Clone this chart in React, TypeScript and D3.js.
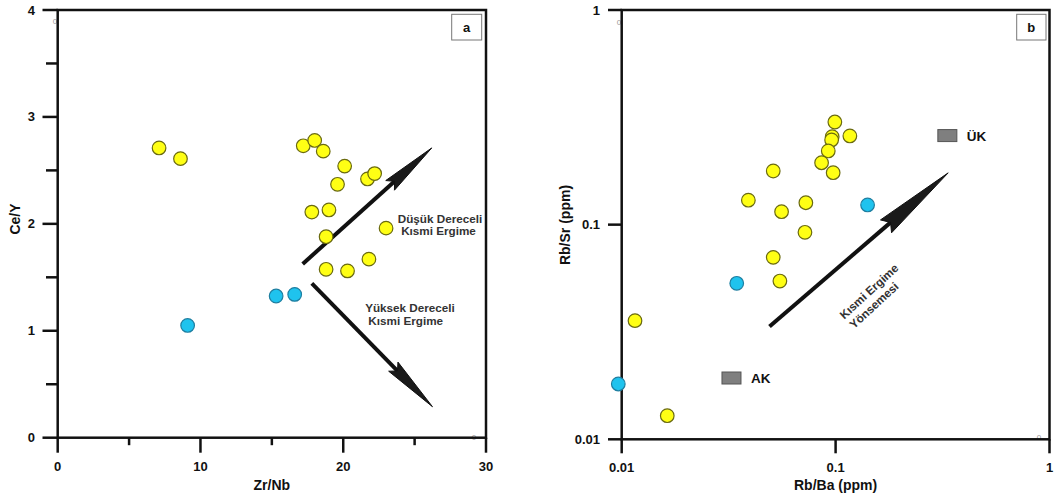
import React from "react";
import * as d3 from "d3";

// Panel a: Zr/Nb vs Ce/Y
const aYellowX = [7.1, 8.6, 17.2, 18.0, 18.6, 20.1, 19.6, 21.7, 22.2, 17.8, 19.0, 23.0, 18.8, 18.8, 20.3, 21.8];
const aYellowY = [2.71, 2.61, 2.73, 2.78, 2.68, 2.54, 2.37, 2.42, 2.47, 2.11, 2.13, 1.96, 1.88, 1.575, 1.56, 1.67];
const aBlueX = [9.1, 15.3, 16.6];
const aBlueY = [1.05, 1.325, 1.34];
const aXTicks = [0, 10, 20, 30];
const aXMinor = [5, 15, 25];
const aYTicks = [0, 1, 2, 3, 4];
const aYMinor = [0.5, 1.5, 2.5, 3.5];
// arrows [x1, y1, x2, y2] in data units
const aArrows = [
  [17.16, 1.625, 26.2, 2.71],
  [17.8, 1.444, 26.25, 0.29],
];

// Panel b: Rb/Ba vs Rb/Sr (log-log)
const bYellowX = [0.0992, 0.0964, 0.0958, 0.1166, 0.0924, 0.086, 0.0974, 0.0511, 0.0391, 0.0559, 0.0726, 0.0719, 0.0511, 0.0549, 0.01154, 0.01633];
const bYellowY = [0.3007, 0.257, 0.248, 0.259, 0.2205, 0.1943, 0.1746, 0.1778, 0.13, 0.1149, 0.1265, 0.0921, 0.0704, 0.0546, 0.0357, 0.01288];
const bBlueX = [0.1411, 0.0345, 0.00964];
const bBlueY = [0.1235, 0.0533, 0.0181];
const bTicks = [0.01, 0.1, 1];
const bTickLabels = ["0.01", "0.1", "1"];
const bRefNames = ["ÜK", "AK"];
const bRefX = [0.333, 0.0326];
const bRefY = [0.26, 0.0193];
const bArrow = [0.0491, 0.0335, 0.336, 0.1743];

const FONT = "'Liberation Sans', Arial, sans-serif";
const YFILL = "#ffff14";
const YSTROKE = "#6a6a10";
const BFILL = "#1fc3ee";
const BSTROKE = "#1e7ea0";

function arrowHead(x1: number, y1: number, x2: number, y2: number, L: number, W: number) {
  const dx = x2 - x1, dy = y2 - y1;
  const len = Math.hypot(dx, dy);
  const ux = dx / len, uy = dy / len;
  const nx = -uy, ny = ux;
  const bx = x2 - L * ux, by = y2 - L * uy;
  const pts = [
    [x2, y2],
    [bx + (W / 2) * nx, by + (W / 2) * ny],
    [x2 - (L - 6) * ux, y2 - (L - 6) * uy],
    [bx - (W / 2) * nx, by - (W / 2) * ny],
  ];
  return { pts: pts.map((p) => p.join(",")).join(" "), lx: x2 - (L - 8) * ux, ly: y2 - (L - 8) * uy };
}

function Arrow({ x1, y1, x2, y2, L, W }: any) {
  const h = arrowHead(x1, y1, x2, y2, L, W);
  return (
    <g>
      <line x1={x1} y1={y1} x2={h.lx} y2={h.ly} stroke="#111" strokeWidth={4} />
      <polygon points={h.pts} fill="#1a1a1a" stroke="#111" strokeWidth={1} strokeLinejoin="miter" />
    </g>
  );
}

export default function App() {
  // Panel a scales
  const ax = d3.scaleLinear().domain([0, 30]).range([57.7, 486]);
  const ay = d3.scaleLinear().domain([0, 4]).range([437.7, 10]);
  // Panel b scales
  const bx = d3.scaleLog().domain([0.01, 1]).range([621.7, 1049.5]);
  const by = d3.scaleLog().domain([0.01, 1]).range([439.3, 10]);

  const tickStyle: any = { fontFamily: FONT, fontWeight: "bold", fontSize: 13, fill: "#111" };
  const titleStyle: any = { fontFamily: FONT, fontWeight: "bold", fontSize: 14, fill: "#111" };
  const annStyle: any = { fontFamily: FONT, fontWeight: "bold", fontSize: 11.7, fill: "#333" };

  return (
    <svg width={1055} height={500} style={{ position: "absolute", left: 0, top: 0, background: "#fff" }}>
      <rect x={0} y={0} width={1055} height={500} fill="#fff" />
      {/* ---------- Panel a ---------- */}
      <g>
        <text x={55} y={24} fontSize={8} fill="#999" fontFamily={FONT} textAnchor="middle">0</text>
        <text x={474} y={440} fontSize={8} fill="#999" fontFamily={FONT} textAnchor="middle">0</text>
        {aYMinor.map((v) => (
          <line key={"aym" + v} x1={46} x2={ax(0)} y1={ay(v)} y2={ay(v)} stroke="#111" strokeWidth={2.5} />
        ))}
        {aYTicks.map((v) => (
          <g key={"ayt" + v}>
            <line x1={42.5} x2={ax(0)} y1={ay(v)} y2={ay(v)} stroke="#111" strokeWidth={2.5} />
            <text x={35} y={ay(v)} dy="0.35em" textAnchor="end" style={tickStyle}>{v}</text>
          </g>
        ))}
        {aXMinor.map((v) => (
          <line key={"axm" + v} x1={ax(v)} x2={ax(v)} y1={ay(0)} y2={ay(0) + 7.5} stroke="#111" strokeWidth={2.5} />
        ))}
        {aXTicks.map((v) => (
          <g key={"axt" + v}>
            <line x1={ax(v)} x2={ax(v)} y1={ay(0)} y2={ay(0) + 15} stroke="#111" strokeWidth={2.5} />
            <text x={ax(v)} y={471} textAnchor="middle" style={tickStyle}>{v}</text>
          </g>
        ))}
        <rect x={ax(0)} y={ay(4)} width={ax(30) - ax(0)} height={ay(0) - ay(4)} fill="none" stroke="#111" strokeWidth={2.5} />
        <text x={ax(15)} y={490} textAnchor="middle" style={titleStyle}>Zr/Nb</text>
        <text transform={`translate(20,219) rotate(-90)`} textAnchor="middle" style={titleStyle}>Ce/Y</text>
        <rect x={451.7} y={14.3} width={30} height={25.7} fill="#fff" stroke="#777" strokeWidth={1} />
        <text x={466.7} y={31.5} textAnchor="middle" style={tickStyle}>a</text>

        {aArrows.map((a, i) => (
          <Arrow key={"aa" + i} x1={ax(a[0])} y1={ay(a[1])} x2={ax(a[2])} y2={ay(a[3])} L={56} W={13} />
        ))}

        {aYellowX.map((v, i) => (
          <circle key={"ay" + i} cx={ax(v)} cy={ay(aYellowY[i])} r={6.8} fill={YFILL} stroke={YSTROKE} strokeWidth={1.2} />
        ))}
        {aBlueX.map((v, i) => (
          <circle key={"ab" + i} cx={ax(v)} cy={ay(aBlueY[i])} r={6.8} fill={BFILL} stroke={BSTROKE} strokeWidth={1.2} />
        ))}

        <text x={440} y={223} textAnchor="middle" style={annStyle}>Düşük Dereceli</text>
        <text x={438.5} y={235} textAnchor="middle" style={annStyle}>Kısmi Ergime</text>
        <text x={410} y={312} textAnchor="middle" style={annStyle}>Yüksek Dereceli</text>
        <text x={405.7} y={325} textAnchor="middle" style={annStyle}>Kısmi Ergime</text>
      </g>

      {/* ---------- Panel b ---------- */}
      <g>
        <text x={619} y={25} fontSize={8} fill="#999" fontFamily={FONT} textAnchor="middle">0</text>
        <text x={1039} y={440} fontSize={8} fill="#999" fontFamily={FONT} textAnchor="middle">0</text>
        {bTicks.map((v, i) => (
          <g key={"byt" + v}>
            <line x1={608} x2={bx(0.01)} y1={by(v)} y2={by(v)} stroke="#111" strokeWidth={2.5} />
            <text x={600} y={by(v)} dy="0.35em" textAnchor="end" style={tickStyle}>{bTickLabels[i]}</text>
          </g>
        ))}
        {bTicks.map((v, i) => (
          <g key={"bxt" + v}>
            <line x1={bx(v)} x2={bx(v)} y1={by(0.01)} y2={by(0.01) + 14} stroke="#111" strokeWidth={2.5} />
            <text x={bx(v)} y={472} textAnchor="middle" style={tickStyle}>{bTickLabels[i]}</text>
          </g>
        ))}
        <rect x={bx(0.01)} y={by(1)} width={bx(1) - bx(0.01)} height={by(0.01) - by(1)} fill="none" stroke="#111" strokeWidth={2.5} />
        <text x={bx(0.1)} y={490} textAnchor="middle" style={titleStyle}>Rb/Ba (ppm)</text>
        <text transform={`translate(570,225) rotate(-90)`} textAnchor="middle" style={titleStyle}>Rb/Sr (ppm)</text>
        <rect x={1016.7} y={14.3} width={29.3} height={25.7} fill="#fff" stroke="#777" strokeWidth={1} />
        <text x={1031.3} y={31.5} textAnchor="middle" style={tickStyle}>b</text>

        <Arrow x1={bx(bArrow[0])} y1={by(bArrow[1])} x2={bx(bArrow[2])} y2={by(bArrow[3])} L={82} W={17} />

        {bRefNames.map((n, i) => (
          <g key={"ref" + n}>
            <rect x={bx(bRefX[i]) - 9.5} y={by(bRefY[i]) - 6} width={19} height={12} fill="#7f7f7f" stroke="#555" strokeWidth={1} />
            <text x={bx(bRefX[i]) + 19.5} y={by(bRefY[i]) + 5} style={{ ...tickStyle, fontSize: 13.5 }}>{n}</text>
          </g>
        ))}

        {bYellowX.map((v, i) => (
          <circle key={"by" + i} cx={bx(v)} cy={by(bYellowY[i])} r={6.8} fill={YFILL} stroke={YSTROKE} strokeWidth={1.2} />
        ))}
        {bBlueX.map((v, i) => (
          <circle key={"bb" + i} cx={bx(v)} cy={by(bBlueY[i])} r={6.8} fill={BFILL} stroke={BSTROKE} strokeWidth={1.2} />
        ))}

        <g transform="translate(869,291.5) rotate(-42.5)">
          <text x={0} y={4} textAnchor="middle" style={annStyle}>Kısmi Ergime</text>
        </g>
        <g transform="translate(874,305.5) rotate(-42.5)">
          <text x={0} y={4} textAnchor="middle" style={annStyle}>Yönsemesi</text>
        </g>
      </g>
    </svg>
  );
}
